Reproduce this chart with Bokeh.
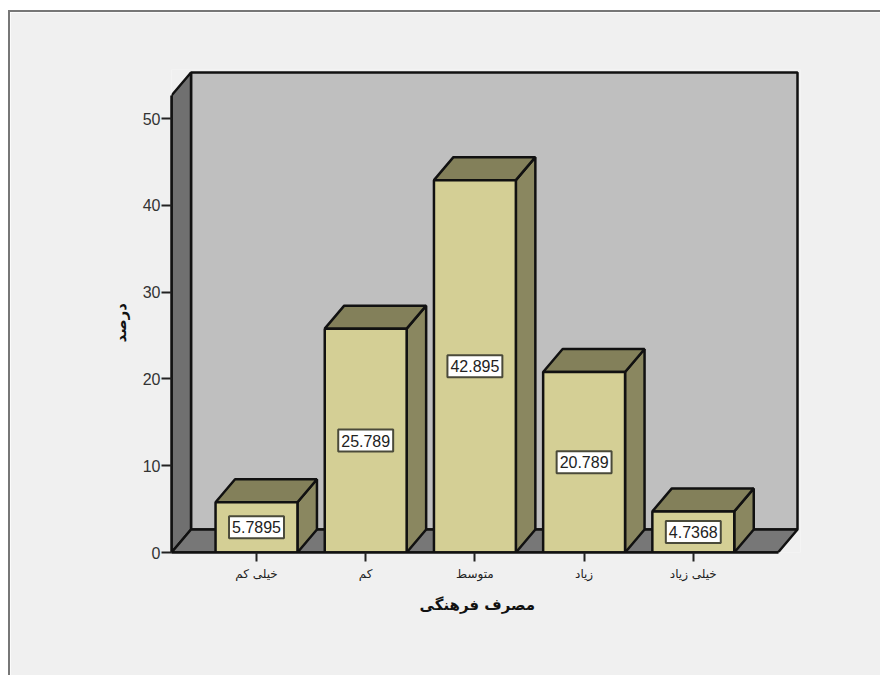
from bokeh.plotting import figure
from bokeh.embed import file_html
from bokeh.resources import INLINE
from bokeh.models import Range1d, LinearAxis, FixedTicker, ColumnDataSource, Title
from bokeh.core.properties import value

categories = ["خیلی کم", "کم", "متوسط", "زیاد", "خیلی زیاد"]
positions = [1, 2, 3, 4, 5]
percent = [5.7895, 25.789, 42.895, 20.789, 4.7368]
labels = ["5.7895", "25.789", "42.895", "20.789", "4.7368"]
y_ticks = [0, 10, 20, 30, 40, 50]
x_title = "مصرف فرهنگی"
y_title = "درصد"

# pixel geometry of the frame inside the figure
W, H = 872, 665
PAD = 3                               # room so the wall's outer edge is not clipped
FL, FR, FT, FB = 161, 787 + PAD, 60 - PAD, 540   # frame edges, figure px
BL, BT = 8, 10
PX_PER_CAT = 109.2
PX_PER_UNIT = 8.68
DX = 19.5 / PX_PER_CAT
DY = 23.0 / PX_PER_UNIT
BAR = 0.75
x0 = 1 - (257 - 172) / PX_PER_CAT
x1 = x0 + (FR - FL) / PX_PER_CAT
y1 = (FB - FT) / PX_PER_UNIT
xw = x1 - PAD / PX_PER_CAT
yw = y1 - PAD / PX_PER_UNIT
TOP_WALL = yw - DY
x_front_right = xw - DX
LW = 2.5

p = figure(width=W, height=H, output_backend="svg", toolbar_location=None,
           x_range=Range1d(x0, x1), y_range=Range1d(0, y1),
           min_border_left=FL, min_border_right=W - FR,
           min_border_top=FT, min_border_bottom=H - FB,
           x_axis_location=None, y_axis_location=None,
           border_fill_color="#f0f0f0", background_fill_color="#f0f0f0")
p.grid.visible = False
p.outline_line_color = None

EDGE = "#111111"
# back wall, left wall, floor
p.patch([x0 + DX, xw, xw, x0 + DX], [DY, DY, yw, yw], fill_color="#bfbfbf", line_color=EDGE, line_width=LW)
p.patch([x0, x0 + DX, x0 + DX, x0], [0, DY, yw, TOP_WALL], fill_color="#707070", line_color=EDGE, line_width=LW)
p.patch([x0, x0 + DX, xw, x_front_right], [0, DY, DY, 0], fill_color="#777777", line_color=EDGE, line_width=LW)

lefts = [c - BAR / 2 for c in positions]
rights = [c + BAR / 2 for c in positions]
src = ColumnDataSource(dict(
    left=lefts, right=rights, top=percent, mid=[v / 2 for v in percent],
    x=positions, label=labels,
    side_x=[[r, r + DX, r + DX, r] for r in rights],
    side_y=[[0, DY, v + DY, v] for v in percent],
    top_x=[[l, l + DX, r + DX, r] for l, r in zip(lefts, rights)],
    top_y=[[v, v + DY, v + DY, v] for v in percent],
))
p.patches("side_x", "side_y", source=src, fill_color="#8a8760", line_color=EDGE, line_width=LW)
p.patches("top_x", "top_y", source=src, fill_color="#83805a", line_color=EDGE, line_width=LW)
p.quad(left="left", right="right", bottom=0, top="top", source=src,
       fill_color="#d4cf95", line_color=EDGE, line_width=LW)
p.text("x", "mid", text="label", source=src, text_align="center", text_baseline="middle",
       text_font=value("Liberation Sans"), text_font_size="16px", text_color="#222222",
       background_fill_color="white", border_line_color="#4a4a3a", border_line_width=2,
       padding=(3, 5))

ay = LinearAxis(ticker=FixedTicker(ticks=y_ticks), bounds=(0, TOP_WALL),
                major_tick_out=10, major_tick_in=0, minor_tick_line_color=None,
                major_tick_line_color="#222222", major_tick_line_width=2,
                axis_line_color="#111111", axis_line_width=LW,
                major_label_text_font="Liberation Sans", major_label_text_font_size="16px",
                major_label_text_color="#333333", major_label_standoff=1)
p.add_layout(ay, "left")

ax = LinearAxis(ticker=FixedTicker(ticks=positions),
                major_label_overrides=dict(zip(positions, categories)),
                bounds=(x0, x_front_right),
                major_tick_out=9, major_tick_in=0, minor_tick_line_color=None,
                major_tick_line_color="#222222", major_tick_line_width=2,
                axis_line_color="#111111", axis_line_width=LW,
                major_label_text_font="DejaVu Sans", major_label_text_font_size="12px",
                major_label_text_color="#222222", major_label_standoff=5)
p.add_layout(ax, "below")

# axis titles
p.add_layout(Title(text=x_title, align="left", offset=248, standoff=20,
                   text_font="DejaVu Sans", text_font_style="bold",
                   text_font_size="15px", text_color="#111111"), "below")
p.add_layout(Title(text=y_title, align="left", offset=210, standoff=19,
                   text_font="DejaVu Sans", text_font_style="bold",
                   text_font_size="15px", text_color="#111111"), "left")

p.styles = {"border-left": "2px solid #777777", "border-top": "2px solid #777777"}
p.margin = (BT, 0, 0, BL)

open("out.html", "w").write(file_html(p, INLINE))
